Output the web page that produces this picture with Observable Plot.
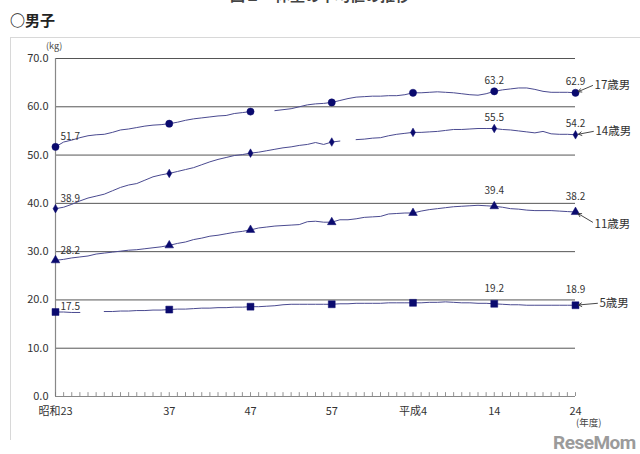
<!DOCTYPE html>
<html>
<head>
<meta charset="utf-8">
<script src="https://cdn.jsdelivr.net/npm/d3@7"></script>
<script src="https://cdn.jsdelivr.net/npm/@observablehq/plot@0.6"></script>
<style>
  html, body { margin: 0; padding: 0; background: #fff; }
  #wrap { position: relative; width: 640px; height: 454px; overflow: hidden; font-family: "Noto Sans CJK JP", "Noto Sans", sans-serif; }
  #wrap svg { position: absolute; left: 0; top: 0; }
  .abs { position: absolute; white-space: nowrap; }
</style>
</head>
<body>
<div id="wrap">
  <div class="abs" style="left:0;top:37px;width:640px;height:403px;border-left:1px solid #d8d8d8;border-top:1px solid #d8d8d8;margin-left:10px;box-sizing:border-box;"></div>
  <div class="abs" style="left:230px;top:-16px;font-size:15px;font-weight:bold;color:#444;">図１　体重の平均値の推移</div>
  <div class="abs" style="left:10px;top:9px;font-size:15px;font-weight:bold;color:#222;">○男子</div>
  <div class="abs" style="left:46px;top:39px;font-size:9px;color:#444;">(kg)</div>
  <div class="abs" style="left:576px;top:416px;font-size:9.5px;line-height:12px;color:#444;">(年度)</div>
  <div class="abs" style="left:553px;top:433px;font-size:19px;line-height:19px;font-weight:bold;color:#8a8a8a;opacity:0.85;font-family:Roboto, sans-serif;letter-spacing:-0.5px;">ReseMom</div>
</div>
<script>
// ---- data (年度 1948 = 昭和23 ... 2012 = 平成24) ----
const years = d3.range(1948, 2013);
const boys17 = [
  51.7, 52.7, 53.1, 53.6, 54.0, 54.2, 54.3, 54.7, 55.2, 55.4, 55.7, 56.0, 56.2, 56.3, 56.5, 56.8, 57.2, 57.5, 57.7, 57.9, 58.1, 58.2, 58.6, 58.8, 59.0,
  null, null, 59.2, 59.4, 59.6, 60.0, 60.4, 60.6, 60.7, 60.9, 61.3, 61.7, 62.0, 62.1, 62.2, 62.2, 62.3, 62.3, 62.5, 62.9,
  62.9, 63.0, 63.1, 63.0, 62.9, 62.7, 62.5, 62.4, 62.7, 63.2, 63.5, 63.7, 63.9, 63.9, 63.6, 63.2, 63.0, 63.0, 63.0, 62.9
];
const boys14 = [
  38.9, 39.2, 39.8, 40.5, 41.1, 41.5, 41.9, 42.6, 43.3, 43.8, 44.1, 44.8, 45.5, 45.9, 46.2, 46.6, 47.0, 47.4, 48.0, 48.6, 49.1, 49.5, 49.9, 50.1, 50.4,
  50.6, 50.9, 51.2, 51.5, 51.7, 52.0, 52.2, 52.6, 52.2, 52.7, 52.9, null, 53.2, 53.3, 53.5, 53.6, 54.0, 54.3, 54.5, 54.7,
  54.7, 54.8, 54.9, 55.1, 55.3, 55.3, 55.4, 55.5, 55.5, 55.5, 55.3, 55.2, 55.0, 54.8, 54.6, 54.9, 54.4, 54.3, 54.3, 54.2
];
const boys11 = [
  28.2, 28.4, 28.7, 28.9, 29.1, 29.5, 29.7, 29.9, 30.1, 30.3, 30.4, 30.6, 30.8, 31.0, 31.3, 31.7, 32.0, 32.5, 32.8, 33.2, 33.4, 33.7, 34.0, 34.2, 34.5,
  34.9, 35.1, 35.3, 35.4, 35.5, 35.6, 36.2, 36.3, 36.1, 36.1, 36.6, 36.6, 36.8, 37.1, 37.2, 37.3, 37.8, 37.9, 38.0, 38.0,
  38.4, 38.7, 38.9, 39.1, 39.3, 39.4, 39.5, 39.6, 39.5, 39.4, 39.2, 38.9, 38.8, 38.6, 38.5, 38.5, 38.5, 38.4, 38.3, 38.2
];
const boys5 = [
  17.5, 17.5, 17.4, 17.4, null, null, 17.6, 17.6, 17.7, 17.7, 17.8, 17.8, 17.9, 17.9, 18.0, 18.1, 18.1, 18.2, 18.3, 18.3, 18.4, 18.4, 18.5, 18.5, 18.6,
  18.6, 18.7, 18.8, 19.0, 19.1, 19.1, 19.1, 19.1, 19.1, 19.1, 19.2, 19.2, 19.3, 19.3, 19.3, 19.3, 19.4, 19.4, 19.4, 19.4,
  19.4, 19.5, 19.5, 19.6, 19.5, 19.4, 19.4, 19.3, 19.3, 19.2, 19.1, 19.0, 19.0, 18.9, 18.9, 18.9, 18.9, 18.9, 18.9, 18.9
];
const seriesNames = ["17歳男", "14歳男", "11歳男", "5歳男"];
const seriesValues = [boys17, boys14, boys11, boys5];
const seriesSymbols = ["circle", "diamond", "triangle", "square"];
const seriesSymbolR = [3.6, 2.6, 3.2, 3.9];
const tickYears = [1948, 1962, 1972, 1982, 1992, 2002, 2012];
const tickLabels = ["昭和23", "37", "47", "57", "平成4", "14", "24"];
const yTicks = [0, 10, 20, 30, 40, 50, 60, 70];
const labelYearsStart = [1948];
const labelYearsEnd = [2002, 2012];
// label offsets (px) above the labelled points, per series
const startLabelDy = [-10, -10, -10, -5];
const endLabelDy = [-11, -11, -15, -15];
// arrow start offsets (years, kg) for the series name call-outs
const arrowOffsets = [[2.1, 1.5], [2.2, 0.7], [2.1, -2.1], [2.7, 0.4]];
const calloutDy = [0, 0, 2, 0];

// ---- build tables ----
const rows = [];
seriesNames.forEach((s, k) => years.forEach((yr, i) => rows.push({series: s, k, year: yr, value: seriesValues[k][i]})));
const markers = rows.filter(d => tickYears.includes(d.year) && d.value != null);
const labelsStart = rows.filter(d => labelYearsStart.includes(d.year));
const labelsEnd = rows.filter(d => labelYearsEnd.includes(d.year));
const lastYear = years[years.length - 1];
const callouts = seriesNames.map((s, k) => ({
  series: s, k,
  x2: lastYear, y2: seriesValues[k][years.length - 1],
  x1: lastYear + arrowOffsets[k][0], y1: seriesValues[k][years.length - 1] + arrowOffsets[k][1]
}));

const lineColor = "#4a4a90";
const markColor = "#0a0a6e";
const font = "'Noto Sans CJK JP', 'Noto Sans', sans-serif";

const marks = [
  Plot.ruleY(yTicks.filter(v => v > 0), {y: d => d, stroke: "#555", strokeWidth: 1}),
  Plot.ruleY([0], {stroke: "#888", strokeWidth: 1.2}),
  Plot.ruleX([years[0]], {y1: 0, y2: 70, stroke: "#888", strokeWidth: 1.2}),
  Plot.ruleX(years, {x: d => d, y1: 0, y2: 0.8, stroke: "#777", strokeWidth: 0.8}),
  Plot.axisY({ticks: yTicks, tickFormat: d => d.toFixed(1), tickSize: 0, tickPadding: 7, fontSize: 11, label: null, fill: "#333"}),
  Plot.axisX({ticks: tickYears, tickFormat: d => tickLabels[tickYears.indexOf(d)], tickSize: 0, tickPadding: 11, fontSize: 11, label: null, fill: "#333"})
];
seriesNames.forEach((s, k) => {
  const data = rows.filter(d => d.k === k);
  marks.push(Plot.line(data, {x: "year", y: "value", stroke: lineColor, strokeWidth: 1}));
  marks.push(Plot.dot(markers.filter(d => d.k === k), {x: "year", y: "value", symbol: seriesSymbols[k], r: seriesSymbolR[k], fill: markColor, stroke: markColor, strokeWidth: 0.5}));
  marks.push(Plot.text(labelsStart.filter(d => d.k === k), {x: "year", y: "value", text: d => d.value.toFixed(1), textAnchor: "start", dx: 5, dy: startLabelDy[k], fontSize: 10, fill: "#333"}));
  marks.push(Plot.text(labelsEnd.filter(d => d.k === k), {x: "year", y: "value", text: d => d.value.toFixed(1), dy: endLabelDy[k], fontSize: 10, fill: "#333"}));
  marks.push(Plot.text(callouts.filter(d => d.k === k), {x: "x1", y: "y1", text: "series", textAnchor: "start", dx: 2, dy: calloutDy[k], fontSize: 11.5, fill: "#333"}));
});
marks.push(
  Plot.arrow(callouts, {x1: "x1", y1: "y1", x2: "x2", y2: "y2", stroke: "#333", strokeWidth: 0.9, headLength: 6, insetEnd: 3})
);

const chart = Plot.plot({
  width: 640,
  height: 454,
  marginLeft: 55,
  marginRight: 65,
  marginTop: 58,
  marginBottom: 58,
  style: {fontFamily: font, background: "transparent", overflow: "visible"},
  x: {domain: [1948, 2012]},
  y: {domain: [0, 70]},
  marks
});
document.getElementById("wrap").prepend(chart);
</script>
</body>
</html>
